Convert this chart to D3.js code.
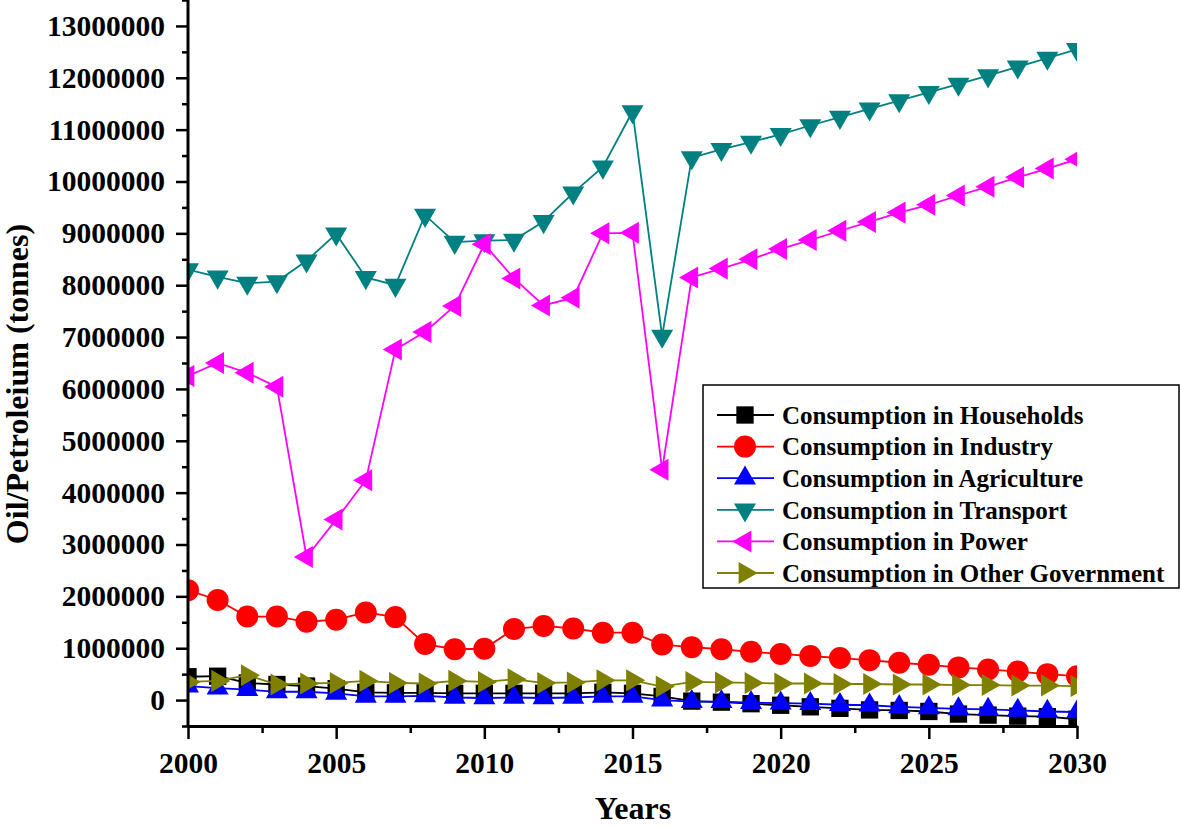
<!DOCTYPE html>
<html>
<head>
<meta charset="utf-8">
<script src="https://cdn.jsdelivr.net/npm/d3@7"></script>
<style>
  body { margin: 0; background: #fff; }
  svg { display: block; }
  text { font-family: "Liberation Serif", "Times New Roman", serif; font-weight: bold; }
</style>
</head>
<body>
<div id="graph"></div>
<script>
let width = 1182;
let height = 827;

// years on the x axis
let years = [2000, 2001, 2002, 2003, 2004, 2005, 2006, 2007, 2008, 2009, 2010,
             2011, 2012, 2013, 2014, 2015, 2016, 2017, 2018, 2019, 2020,
             2021, 2022, 2023, 2024, 2025, 2026, 2027, 2028, 2029, 2030];

// values, in millions of tonnes
let households = [0.45, 0.46, 0.33, 0.30, 0.27, 0.22, 0.15, 0.14, 0.14, 0.13, 0.13,
                  0.13, 0.13, 0.13, 0.15, 0.13, 0.07, -0.02, -0.04, -0.07, -0.10,
                  -0.13, -0.16, -0.19, -0.20, -0.22, -0.27, -0.29, -0.31, -0.32, -0.37];
let industry = [2.12, 1.93, 1.61, 1.61, 1.51, 1.55, 1.69, 1.60, 1.08, 0.98, 0.99,
                1.37, 1.43, 1.38, 1.30, 1.30, 1.07, 1.02, 0.98, 0.93, 0.89,
                0.85, 0.81, 0.77, 0.72, 0.68, 0.63, 0.59, 0.55, 0.50, 0.46];
let agriculture = [0.27, 0.23, 0.20, 0.16, 0.16, 0.13, 0.07, 0.07, 0.08, 0.05, 0.04,
                   0.05, 0.04, 0.05, 0.07, 0.07, 0.00, -0.03, -0.03, -0.05, -0.06,
                   -0.07, -0.09, -0.10, -0.13, -0.15, -0.17, -0.18, -0.20, -0.22, -0.23];
let transport = [8.30, 8.16, 8.04, 8.07, 8.47, 8.99, 8.15, 8.00, 9.35, 8.83, 8.86,
                 8.87, 9.23, 9.78, 10.28, 11.35, 7.02, 10.46, 10.62, 10.76, 10.91,
                 11.08, 11.24, 11.40, 11.56, 11.72, 11.88, 12.04, 12.21, 12.38, 12.55];
let power = [6.25, 6.50, 6.31, 6.04, 2.76, 3.48, 4.24, 6.76, 7.10, 7.60, 8.79,
             8.13, 7.61, 7.76, 9.00, 9.01, 4.44, 8.15, 8.32, 8.50, 8.70,
             8.87, 9.05, 9.22, 9.40, 9.55, 9.73, 9.90, 10.08, 10.25, 10.43];
let otherGov = [0.35, 0.37, 0.48, 0.30, 0.32, 0.33, 0.37, 0.33, 0.32, 0.37, 0.35,
                0.40, 0.33, 0.34, 0.38, 0.38, 0.26, 0.35, 0.34, 0.33, 0.32,
                0.32, 0.31, 0.31, 0.30, 0.30, 0.29, 0.29, 0.28, 0.28, 0.27];

let seriesNames = ["Consumption in Households", "Consumption in Industry",
                   "Consumption in Agriculture", "Consumption in Transport",
                   "Consumption in Power", "Consumption in Other Government"];
let seriesValues = [households, industry, agriculture, transport, power, otherGov];
let seriesColors = ["#000000", "#FF0000", "#0000FF", "#008080", "#FF00FF", "#808000"];
let seriesShapes = ["square", "circle", "up", "down", "left", "right"];

let yTicks = [0, 1000000, 2000000, 3000000, 4000000, 5000000, 6000000, 7000000,
              8000000, 9000000, 10000000, 11000000, 12000000, 13000000];
let xTicks = [2000, 2005, 2010, 2015, 2020, 2025, 2030];

let x = d3.scaleLinear().domain([2000, 2030]).range([188, 1077]);
let y = d3.scaleLinear().domain([-500000, 13500000]).range([726, 0]);

let svg = d3.select('#graph')
  .append('svg')
  .attr('width', width)
  .attr('height', height);

svg.append('defs').append('clipPath')
  .attr('id', 'plotclip')
  .append('rect')
  .attr('x', x.range()[0])
  .attr('y', 0)
  .attr('width', x.range()[1] - x.range()[0])
  .attr('height', y.range()[0]);

let symbolPath = function(shape) {
  if (shape == 'square') return d3.symbol(d3.symbolSquare, 300)();
  if (shape == 'circle') return d3.symbol(d3.symbolCircle, 380)();
  return d3.symbol(d3.symbolTriangle, 210)();
};
let symbolRotate = { square: 0, circle: 0, up: 0, down: 180, left: -90, right: 90 };

// series: line then markers, drawn in legend order
let plot = svg.append('g').attr('clip-path', 'url(#plotclip)');

seriesValues.forEach(function(vals, i) {
  let pts = years.map(function(yr, j) { return { year: yr, value: vals[j] * 1000000 }; });
  let line = d3.line()
    .x(d => x(d.year))
    .y(d => y(d.value));

  let g = plot.append('g');
  g.append('path')
    .datum(pts)
    .attr('fill', 'none')
    .attr('stroke', seriesColors[i])
    .attr('stroke-width', 1.8)
    .attr('d', line);

  g.selectAll('path.mark')
    .data(pts)
    .enter()
    .append('path')
    .attr('class', 'mark')
    .attr('d', symbolPath(seriesShapes[i]))
    .attr('fill', seriesColors[i])
    .attr('transform', d => 'translate(' + x(d.year) + ',' + y(d.value) + ') rotate(' + symbolRotate[seriesShapes[i]] + ')');
});

// y axis, major + minor ticks
let yMinor = yTicks.map(v => v + 500000).concat([-500000]);
svg.append('g')
  .attr('transform', 'translate(188,0)')
  .call(d3.axisLeft(y).tickValues(yMinor).tickSize(6).tickFormat(''))
  .call(g => g.select('.domain').remove())
  .selectAll('line').attr('stroke-width', 2.5);

let yAxis = svg.append('g')
  .attr('transform', 'translate(188,0)')
  .call(d3.axisLeft(y).tickValues(yTicks).tickSize(12).tickPadding(11).tickFormat(d3.format('d')).tickSizeOuter(0));
yAxis.select('.domain').attr('stroke-width', 3).attr('d', 'M0,0V726');
yAxis.selectAll('line').attr('stroke-width', 2.5);
yAxis.selectAll('text')
  .style('font-size', '29.5px')
  .style('font-family', '"Liberation Serif", "Times New Roman", serif')
  .style('font-weight', 'bold')
  .attr('fill', '#000');

// x axis
let xMinor = [2002.5, 2007.5, 2012.5, 2017.5, 2022.5, 2027.5];
svg.append('g')
  .attr('transform', 'translate(0,726)')
  .call(d3.axisBottom(x).tickValues(xMinor).tickSize(7).tickFormat(''))
  .call(g => g.select('.domain').remove())
  .selectAll('line').attr('stroke-width', 2.5);

let xAxis = svg.append('g')
  .attr('transform', 'translate(0,726)')
  .call(d3.axisBottom(x).tickValues(xTicks).tickSize(13).tickPadding(13).tickFormat(d3.format('d')).tickSizeOuter(0));
xAxis.select('.domain').attr('stroke-width', 3);
xAxis.selectAll('line').attr('stroke-width', 2.5);
xAxis.selectAll('text')
  .style('font-size', '29.5px')
  .style('font-family', '"Liberation Serif", "Times New Roman", serif')
  .style('font-weight', 'bold')
  .attr('fill', '#000');

// axis titles
svg.append('text')
  .attr('x', 633)
  .attr('y', 819)
  .attr('text-anchor', 'middle')
  .style('font-size', '32px')
  .text('Years');

svg.append('text')
  .attr('transform', 'translate(28,384) rotate(-90)')
  .attr('text-anchor', 'middle')
  .style('font-size', '32px')
  .text('Oil/Petroleium (tonnes)');

// legend
let legend = svg.append('g');
legend.append('rect')
  .attr('x', 703)
  .attr('y', 385)
  .attr('width', 476)
  .attr('height', 203)
  .attr('fill', '#fff')
  .attr('stroke', '#000')
  .attr('stroke-width', 1.5);

let rows = legend.selectAll('g.row')
  .data(seriesNames)
  .enter()
  .append('g')
  .attr('class', 'row')
  .attr('transform', (d, i) => 'translate(0,' + (415 + i * 31.6) + ')');

rows.append('line')
  .attr('x1', 717).attr('x2', 774)
  .attr('y1', 0).attr('y2', 0)
  .attr('stroke', (d, i) => seriesColors[i])
  .attr('stroke-width', 1.8);

rows.append('path')
  .attr('d', (d, i) => symbolPath(seriesShapes[i]))
  .attr('fill', (d, i) => seriesColors[i])
  .attr('transform', (d, i) => 'translate(745,0) rotate(' + symbolRotate[seriesShapes[i]] + ')');

rows.append('text')
  .attr('x', 782)
  .attr('y', 0)
  .attr('dy', '0.35em')
  .style('font-size', '25px')
  .text(d => d);
</script>
</body>
</html>
